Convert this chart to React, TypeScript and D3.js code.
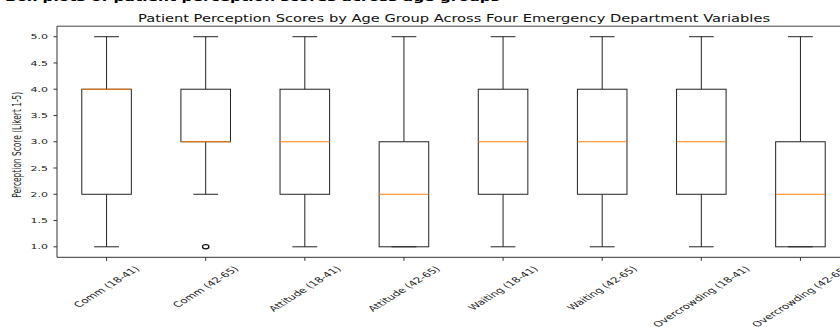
import React, { useEffect, useRef } from "react";
import * as d3 from "d3";

const categories = [
  "Comm (18-41)",
  "Comm (42-65)",
  "Attitude (18-41)",
  "Attitude (42-65)",
  "Waiting (18-41)",
  "Waiting (42-65)",
  "Overcrowding (18-41)",
  "Overcrowding (42-65)",
];
const whiskerLow = [1, 2, 1, 1, 1, 1, 1, 1];
const q1 = [2, 3, 2, 1, 2, 2, 2, 1];
const medians = [4, 3, 3, 2, 3, 3, 3, 2];
const q3 = [4, 4, 4, 3, 4, 4, 4, 3];
const whiskerHigh = [5, 5, 5, 5, 5, 5, 5, 5];
const fliers: number[][] = [[], [1], [], [], [], [], [], []];
const yTicks = [1.0, 1.5, 2.0, 2.5, 3.0, 3.5, 4.0, 4.5, 5.0];

const title =
  "Patient Perception Scores by Age Group Across Four Emergency Department Variables";
const header = "Box plots of patient perception scores across age groups";
const yLabel = "Perception Score (Likert 1-5)";

const W = 840;
const H = 327;
const K = 0.62; // vertical squash of the source figure's text

export default function App() {
  const ref = useRef<SVGSVGElement>(null);

  useEffect(() => {
    const svg = d3.select(ref.current);
    svg.selectAll("*").remove();

    const x = d3.scaleLinear().domain([0.5, 8.5]).range([57, 850]);
    const y = d3.scaleLinear().domain([0.8, 5.2]).range([257.3, 26.2]);
    const unit = x(1) - x(0);
    const boxW = 0.5 * unit;
    const capW = 0.25 * unit;
    const stroke = "#222";

    // cropped bold header at the very top
    svg
      .append("text")
      .attr("transform", `translate(5,0.5) scale(1,${K})`)
      .attr("font-family", "DejaVu Sans")
      .attr("font-weight", "bold")
      .attr("font-size", 17)
      .attr("textLength", 495)
      .attr("lengthAdjust", "spacingAndGlyphs")
      .attr("fill", "#000")
      .text(header);

    // title
    svg
      .append("text")
      .attr("transform", `translate(454,22) scale(1,0.75)`)
      .attr("text-anchor", "middle")
      .attr("font-family", "DejaVu Sans")
      .attr("font-size", 13)
      .attr("textLength", 632)
      .attr("lengthAdjust", "spacingAndGlyphs")
      .attr("fill", "#111")
      .text(title);

    // spines
    const [x0, x1] = x.range();
    const [yb, yt] = y.range();
    svg
      .append("line")
      .attr("x1", x0)
      .attr("x2", x0)
      .attr("y1", yt)
      .attr("y2", yb)
      .attr("stroke", "#333")
      .attr("stroke-width", 1);
    svg
      .append("line")
      .attr("x1", x0)
      .attr("x2", x1)
      .attr("y1", yb)
      .attr("y2", yb)
      .attr("stroke", "#333")
      .attr("stroke-width", 1);
    svg
      .append("line")
      .attr("x1", x0)
      .attr("x2", x1)
      .attr("y1", yt)
      .attr("y2", yt)
      .attr("stroke", "#444")
      .attr("stroke-width", 1);

    // y ticks
    yTicks.forEach((t) => {
      svg
        .append("line")
        .attr("x1", x0 - 3.5)
        .attr("x2", x0)
        .attr("y1", y(t))
        .attr("y2", y(t))
        .attr("stroke", "#333");
      svg
        .append("text")
        .attr("transform", `translate(${x0 - 9},${y(t)}) scale(1,0.68)`)
        .attr("dy", "0.36em")
        .attr("text-anchor", "end")
        .attr("font-family", "DejaVu Sans")
        .attr("font-size", 11)
        .attr("fill", "#222")
        .text(d3.format(".1f")(t));
    });

    // y label
    svg
      .append("text")
      .attr(
        "transform",
        `translate(17,${(yt + yb) / 2 + 3}) scale(1,${K}) rotate(-90)`
      )
      .attr("text-anchor", "middle")
      .attr("dominant-baseline", "central")
      .attr("font-family", "DejaVu Sans")
      .attr("font-size", 11.5)
      .attr("textLength", 106 / K)
      .attr("lengthAdjust", "spacingAndGlyphs")
      .attr("fill", "#222")
      .text(yLabel);

    // x ticks and labels
    categories.forEach((c, i) => {
      const cx = x(i + 1);
      svg
        .append("line")
        .attr("x1", cx)
        .attr("x2", cx)
        .attr("y1", yb)
        .attr("y2", yb + 3.5)
        .attr("stroke", "#333");
      const F = 12;
      const t = svg
        .append("text")
        .attr("text-anchor", "middle")
        .attr("dominant-baseline", "central")
        .attr("font-family", "DejaVu Sans")
        .attr("font-size", F)
        .attr("fill", "#222")
        .text(c);
      const L = (t.node() as SVGTextElement).getComputedTextLength();
      const h = 1.17 * F;
      const k = 0.63;
      const side = 0.7071 * (L + h);
      const cy = yb + 7 + (k * side) / 2;
      t.attr("transform", `translate(${cx},${cy}) scale(1,${k}) rotate(-45)`);
    });

    // boxes
    categories.forEach((_, i) => {
      const cx = x(i + 1);
      const g = svg.append("g");
      g.append("line")
        .attr("x1", cx)
        .attr("x2", cx)
        .attr("y1", y(q1[i]))
        .attr("y2", y(whiskerLow[i]))
        .attr("stroke", stroke)
        .attr("stroke-width", 1);
      g.append("line")
        .attr("x1", cx)
        .attr("x2", cx)
        .attr("y1", y(q3[i]))
        .attr("y2", y(whiskerHigh[i]))
        .attr("stroke", stroke)
        .attr("stroke-width", 1);
      [whiskerLow[i], whiskerHigh[i]].forEach((v) => {
        g.append("line")
          .attr("x1", cx - capW / 2)
          .attr("x2", cx + capW / 2)
          .attr("y1", y(v))
          .attr("y2", y(v))
          .attr("stroke", stroke)
          .attr("stroke-width", 1);
      });
      g.append("rect")
        .attr("x", cx - boxW / 2)
        .attr("y", y(q3[i]))
        .attr("width", boxW)
        .attr("height", y(q1[i]) - y(q3[i]))
        .attr("fill", "none")
        .attr("stroke", stroke)
        .attr("stroke-width", 1);
      g.append("line")
        .attr("x1", cx - boxW / 2)
        .attr("x2", cx + boxW / 2)
        .attr("y1", y(medians[i]))
        .attr("y2", y(medians[i]))
        .attr("stroke", "#ff7f0e")
        .attr("stroke-width", 1);
      fliers[i].forEach((v) => {
        g.append("ellipse")
          .attr("cx", cx)
          .attr("cy", y(v))
          .attr("rx", 3.2)
          .attr("ry", 2.1)
          .attr("fill", "none")
          .attr("stroke", "#111")
          .attr("stroke-width", 1.3);
      });
    });
  }, []);

  return (
    <svg
      ref={ref}
      width={W}
      height={H}
      style={{ position: "absolute", left: 0, top: 0, background: "#fff" }}
    />
  );
}
